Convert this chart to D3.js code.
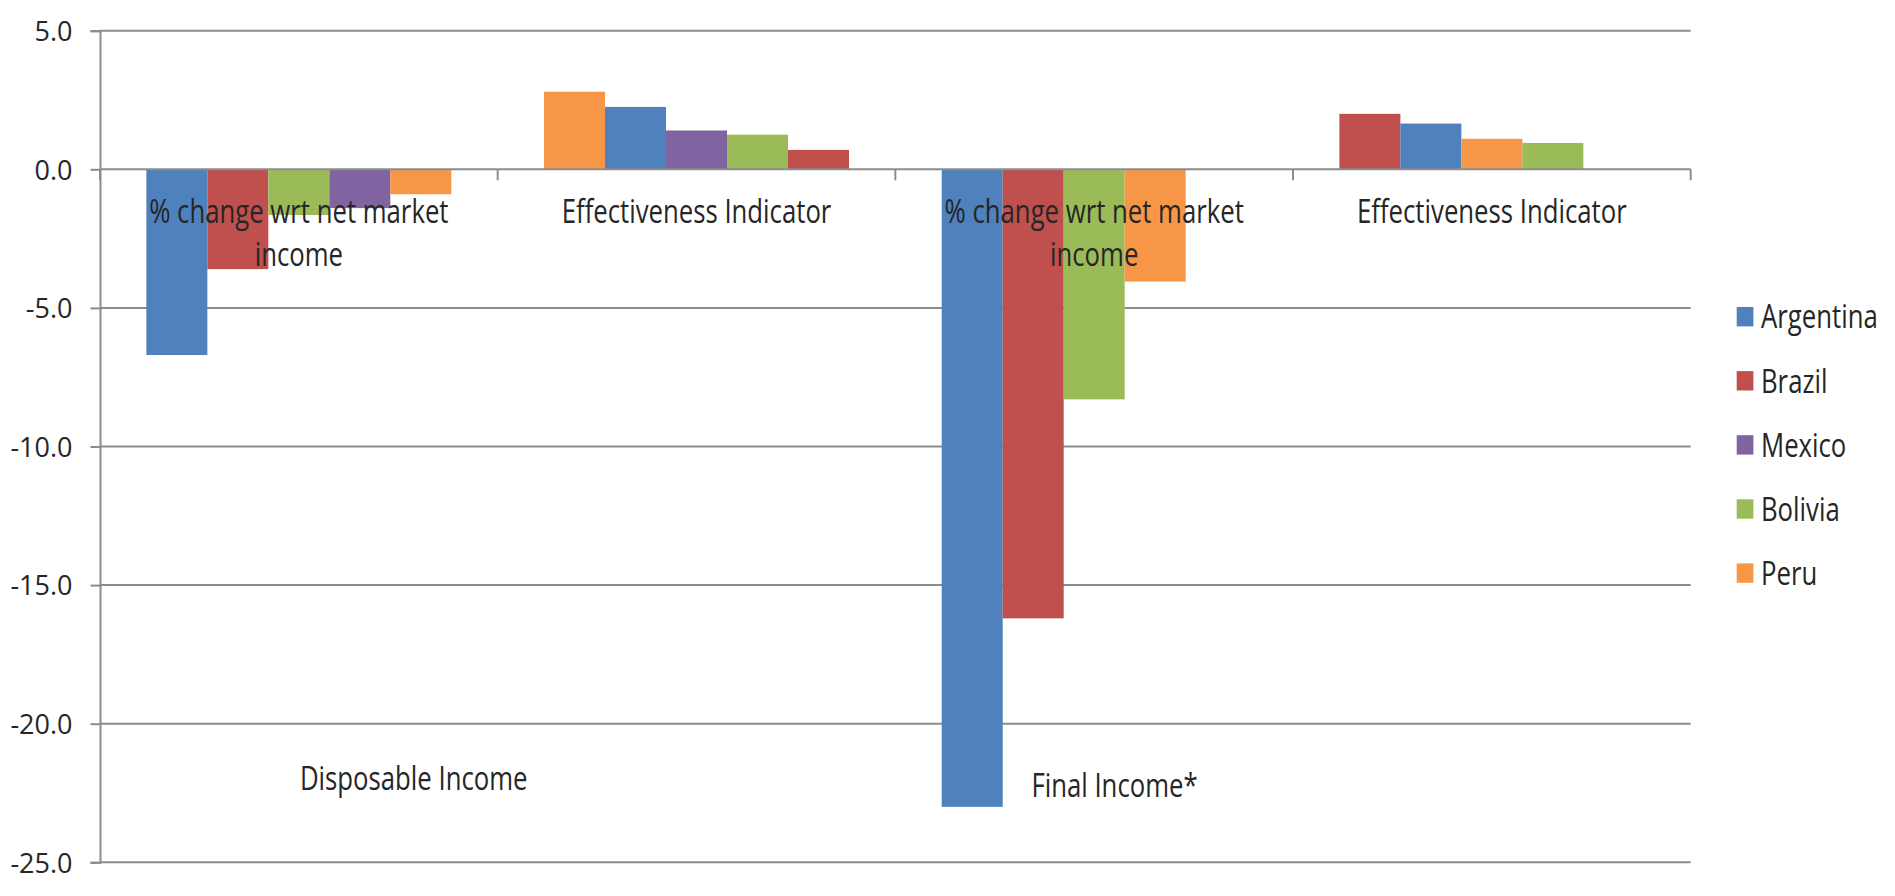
<!DOCTYPE html>
<html>
<head>
<meta charset="utf-8">
<script src="https://cdn.jsdelivr.net/npm/d3@7"></script>
<style>
  html, body { margin: 0; padding: 0; background: #ffffff; }
  svg { display: block; }
  text { font-family: "Open Sans", "Noto Sans", sans-serif; fill: #262626; }
</style>
</head>
<body>
<script>
// ---------- data ----------
const groups = ["Disposable Income", "Final Income*"];
const categories = [
  "% change wrt net market income",
  "Effectiveness Indicator",
  "% change wrt net market income",
  "Effectiveness Indicator"
];
const categoryGroup = [0, 0, 1, 1];
const countries = ["Argentina", "Brazil", "Mexico", "Bolivia", "Peru"];
const argentina = [-6.7, 2.25, -23.0, 1.65];
const brazil    = [-3.6, 0.7, -16.2, 2.0];
const mexico    = [-1.4, 1.4, null, null];
const bolivia   = [-1.65, 1.25, -8.3, 0.95];
const peru      = [-0.9, 2.8, -4.05, 1.1];
// order of the bars inside each category (as drawn in the original)
const slotOrder = [
  ["Argentina", "Brazil", "Bolivia", "Mexico", "Peru"],
  ["Peru", "Argentina", "Mexico", "Bolivia", "Brazil"],
  ["Argentina", "Brazil", "Bolivia", "Peru"],
  ["Brazil", "Argentina", "Peru", "Bolivia"]
];
const yTicks = [5, 0, -5, -10, -15, -20, -25];
const colors = ["#4F81BD", "#C0504D", "#8064A2", "#9BBB59", "#F79646"];

const seriesValues = { Argentina: argentina, Brazil: brazil, Mexico: mexico, Bolivia: bolivia, Peru: peru };

// ---------- layout ----------
const W = 1895, H = 896;
const plot = { left: 100, right: 1690.7, top: 30.7, bottom: 862.3 };
const sx = 0.78; // horizontal compression of the original's text
const grid = "#8c8c8c";

const svg = d3.select("body").append("svg").attr("width", W).attr("height", H);
svg.append("rect").attr("width", W).attr("height", H).attr("fill", "#fff");

const y = d3.scaleLinear().domain([-25, 5]).range([plot.bottom, plot.top]);
const x0 = d3.scaleBand().domain(d3.range(categories.length)).range([plot.left, plot.right]).padding(0);
const x1 = d3.scaleBand().domain(d3.range(5)).range([0, x0.bandwidth()]).paddingInner(0).paddingOuter(0.76);
const color = d3.scaleOrdinal().domain(countries).range(colors);

// gridlines
svg.append("g").selectAll("line").data(yTicks.filter(t => t !== 0)).join("line")
  .attr("x1", plot.left).attr("x2", plot.right)
  .attr("y1", d => y(d)).attr("y2", d => y(d))
  .attr("stroke", grid).attr("stroke-width", 2);

// y axis (ASCII hyphen for negatives, like the original)
const fmt = d => d.toFixed(1);
const yAxis = d3.axisLeft(y).tickValues(yTicks).tickSize(9.5).tickFormat(fmt);
const yg = svg.append("g").attr("transform", `translate(${plot.left},0)`).call(yAxis);
yg.select(".domain").attr("stroke", grid).attr("stroke-width", 2);
yg.selectAll(".tick line").attr("stroke", grid).attr("stroke-width", 2);
yg.selectAll(".tick text")
  .attr("x", -27.5).attr("dy", "0.36em")
  .style("font-size", "27px").style("font-family", "'Open Sans', sans-serif")
  .attr("fill", "#262626").attr("text-anchor", "end");

// bars
const barData = [];
slotOrder.forEach((order, ci) => {
  order.forEach((c, si) => {
    const v = seriesValues[c][ci];
    if (v !== null) barData.push({ ci, si, country: c, value: v });
  });
});
svg.append("g").selectAll("rect").data(barData).join("rect")
  .attr("x", d => x0(d.ci) + x1(d.si))
  .attr("width", x1.bandwidth())
  .attr("y", d => y(Math.max(0, d.value)))
  .attr("height", d => Math.abs(y(d.value) - y(0)))
  .attr("fill", d => color(d.country));

// zero axis line with category tick marks
svg.append("line").attr("x1", plot.left).attr("x2", plot.right)
  .attr("y1", y(0)).attr("y2", y(0)).attr("stroke", grid).attr("stroke-width", 2);
const catEdges = d3.range(categories.length + 1).map(i => plot.left + i * x0.step());
svg.append("g").selectAll("line").data(catEdges).join("line")
  .attr("x1", d => d).attr("x2", d => d)
  .attr("y1", y(0)).attr("y2", y(0) + 11)
  .attr("stroke", grid).attr("stroke-width", 2);

// compressed text helper
function ctext(g, str, xPos, yPos, size, anchor) {
  return g.append("text")
    .attr("transform", `translate(${xPos},${yPos}) scale(${sx},1)`)
    .attr("text-anchor", anchor || "middle")
    .style("font-size", size + "px")
    .text(str);
}

// category labels (wrapped like the original)
const labels = svg.append("g");
categories.forEach((c, i) => {
  const cx = x0(i) + x0.bandwidth() / 2;
  const lines = c.startsWith("%") ? ["% change wrt net market", "income"] : [c];
  lines.forEach((ln, li) => ctext(labels, ln, cx, 223 + li * 43, 33));
});

// group labels
const groupPos = [{ x: 413.7, y: 790 }, { x: 1114.5, y: 796.7 }];
groups.forEach((g, i) => ctext(labels, g, groupPos[i].x, groupPos[i].y, 33));

// legend
const legend = svg.append("g");
countries.forEach((c, i) => {
  const cy = 316.7 + i * 64.1;
  legend.append("rect").attr("x", 1736.7).attr("y", cy - 9.7).attr("width", 16.7).attr("height", 19.4)
    .attr("fill", color(c));
  ctext(legend, c, 1761, cy + 11.7, 33, "start");
});
</script>
</body>
</html>
